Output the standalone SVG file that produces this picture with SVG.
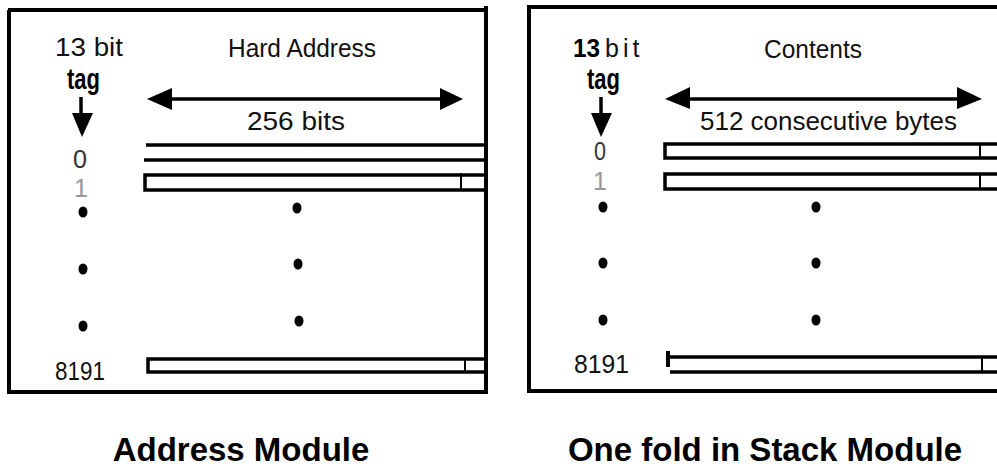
<svg xmlns="http://www.w3.org/2000/svg" width="997" height="469" viewBox="0 0 997 469">
<style>
  .t { font-family: "Liberation Sans", Arial, sans-serif; font-size: 25px; fill: #111; }
  .b { font-family: "Liberation Sans", Arial, sans-serif; font-weight: bold; fill: #000; }
  .title { font-family: "Liberation Sans", Arial, sans-serif; font-weight: bold; font-size: 33px; fill: #000; text-anchor: middle; }
  .frame { fill: none; stroke: #000; stroke-width: 4; }
  .row { fill: none; stroke: #000; stroke-width: 3.5; }
  .tick { stroke: #000; stroke-width: 2; }
  .conn { stroke: #000; stroke-width: 3.5; fill: none; }
  .head { fill: #000; }
  .dot { fill: #000; }
  .g1 { fill: #999; }
  .g0 { fill: #333; }
</style>

<g id="address-module">
  <path class="frame" d="M8,10 H486 M486,6 V392 M9,10 V392 H488"/>
  <text class="t" x="55" y="56" textLength="68" lengthAdjust="spacingAndGlyphs">13  bit</text>
  <text class="b" x="67" y="89" font-size="30" textLength="33" lengthAdjust="spacingAndGlyphs">tag</text>
  <text class="t" x="228" y="57" textLength="148" lengthAdjust="spacingAndGlyphs">Hard Address</text>
  <text class="t" x="247" y="130" textLength="98" lengthAdjust="spacingAndGlyphs">256  bits</text>
  <text class="t g0" x="73" y="168" font-size="27" textLength="14" lengthAdjust="spacingAndGlyphs">0</text>
  <text class="t g1" x="81" y="197" font-size="28" text-anchor="middle">1</text>
  <text class="t" x="55" y="380" font-size="28" textLength="50" lengthAdjust="spacingAndGlyphs">8191</text>
  <path class="row" d="M146,145 H486 M144,160 H486"/>
  <path class="row" d="M486,175 H145 V190 H486"/>
  <line class="tick" x1="461" y1="173" x2="461" y2="190"/>
  <path class="row" d="M486,359 H148 V372 H486"/>
  <line class="tick" x1="465" y1="358" x2="465" y2="373"/>
  <ellipse class="dot" cx="83" cy="212" rx="4.5" ry="5.5"/>
  <ellipse class="dot" cx="83" cy="269" rx="4.5" ry="5.5"/>
  <ellipse class="dot" cx="83" cy="326" rx="4.5" ry="5.5"/>
  <ellipse class="dot" cx="297" cy="208" rx="4.5" ry="5.5"/>
  <ellipse class="dot" cx="298" cy="264" rx="4.5" ry="5.5"/>
  <ellipse class="dot" cx="299" cy="321" rx="4.5" ry="5.5"/>
</g>

<g id="stack-module">
  <path class="frame" d="M527,7 H997 M529,7 V391 H997"/>
  <text class="b" x="573" y="57" font-size="25" textLength="27" lengthAdjust="spacingAndGlyphs">13</text>
  <text class="t" x="605" y="57" letter-spacing="4">bit</text>
  <text class="b" x="587" y="89" font-size="30" textLength="33" lengthAdjust="spacingAndGlyphs">tag</text>
  <text class="t" x="764" y="58" textLength="98" lengthAdjust="spacingAndGlyphs">Contents</text>
  <text class="t" x="700" y="130" textLength="257" lengthAdjust="spacingAndGlyphs">512  consecutive  bytes</text>
  <text class="t g0" x="594" y="160" font-size="25" textLength="12" lengthAdjust="spacingAndGlyphs">0</text>
  <text class="t g1" x="600" y="190" font-size="25" text-anchor="middle">1</text>
  <text class="t" x="574" y="373" font-size="29" textLength="55" lengthAdjust="spacingAndGlyphs">8191</text>
  <path class="row" d="M997,144 H665 V158 H997"/>
  <line class="tick" x1="980" y1="143" x2="980" y2="159"/>
  <path class="row" d="M997,174 H665 V189 H997"/>
  <line class="tick" x1="980" y1="173" x2="980" y2="190"/>
  <path class="row" d="M667,357 H997 M670,372 H997"/>
  <line x1="668" y1="351" x2="668" y2="367" stroke="#000" stroke-width="4"/>
  <line class="tick" x1="982" y1="356" x2="982" y2="372"/>
  <ellipse class="dot" cx="603" cy="207" rx="4.5" ry="5.5"/>
  <ellipse class="dot" cx="603" cy="263" rx="4.5" ry="5.5"/>
  <ellipse class="dot" cx="603" cy="320" rx="4.5" ry="5.5"/>
  <ellipse class="dot" cx="816" cy="207" rx="4.5" ry="5.5"/>
  <ellipse class="dot" cx="816" cy="263" rx="4.5" ry="5.5"/>
  <ellipse class="dot" cx="816" cy="320" rx="4.5" ry="5.5"/>
</g>

<g id="connectors">
  <line class="conn" x1="81" y1="97" x2="81" y2="115" stroke-width="3"/>
  <polygon class="head" points="72,113 93,113 82,137"/>
  <line class="conn" x1="601" y1="97" x2="601" y2="115" stroke-width="3"/>
  <polygon class="head" points="591,113 612,113 601,137"/>
  <line class="conn" x1="165" y1="99" x2="445" y2="99"/>
  <polygon class="head" points="147,99 172,88 172,110"/>
  <polygon class="head" points="463,99 440,88 440,110"/>
  <line class="conn" x1="683" y1="99" x2="962" y2="99"/>
  <polygon class="head" points="665,99 690,87 690,109"/>
  <polygon class="head" points="982,99 957,87 957,109"/>
</g>

<g id="titles">
  <text class="title" x="241" y="461">Address Module</text>
  <text class="title" x="765" y="461">One fold in Stack Module</text>
</g>
</svg>
